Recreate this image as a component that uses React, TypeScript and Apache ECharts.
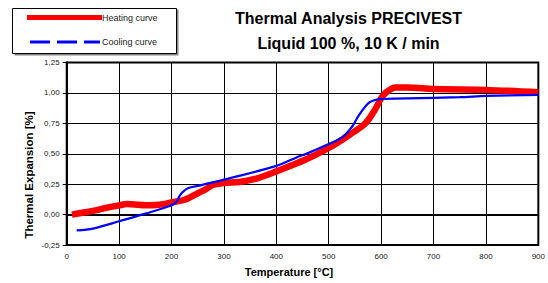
import React, { useEffect, useRef } from "react";
import * as echarts from "echarts";

const heatingT = [10, 30, 50, 75, 100, 115, 130, 150, 175, 200, 225, 250, 266, 280, 300, 330, 365, 400, 455, 500, 540, 570, 590, 600, 610, 627, 650, 700, 800, 900];
const heatingV = [0.0, 0.015, 0.03, 0.055, 0.076, 0.086, 0.083, 0.076, 0.08, 0.1, 0.122, 0.175, 0.21, 0.245, 0.26, 0.268, 0.3, 0.355, 0.45, 0.547, 0.656, 0.75, 0.875, 0.956, 1.006, 1.045, 1.045, 1.033, 1.025, 1.006];

const coolingT = [19, 50, 100, 150, 200, 210, 215, 220, 232, 253, 300, 400, 443, 456, 500, 526, 545, 558, 577, 594, 600, 650, 750, 800, 900];
const coolingV = [-0.13, -0.115, -0.055, 0.008, 0.076, 0.11, 0.15, 0.18, 0.218, 0.238, 0.287, 0.4, 0.478, 0.497, 0.58, 0.637, 0.724, 0.82, 0.92, 0.948, 0.95, 0.955, 0.965, 0.975, 0.984];

const xTicks = { min: 0, max: 900, interval: 100 };
const yTicks = { min: -0.25, max: 1.25, interval: 0.25 };

const titleLines = ["Thermal Analysis PRECIVEST", "Liquid 100 %, 10 K / min"];
const legendNames = ["Heating curve", "Cooling curve"];
const xName = "Temperature [°C]";
const yName = "Thermal Expansion [%]";

export default function App() {
  const ref = useRef<HTMLDivElement>(null);
  useEffect(() => {
    if (!ref.current) return;
    const chart = echarts.init(ref.current, undefined, { renderer: "svg" });
    const font = "Liberation Sans, Arial, sans-serif";
    chart.setOption({
      animation: false,
      backgroundColor: "#fff",
      textStyle: { fontFamily: font },
      grid: {
        left: 66.7,
        right: 9,
        top: 62.5,
        bottom: 38,
        show: true,
        borderColor: "#000",
        borderWidth: 2,
        containLabel: false,
      },
      xAxis: {
        type: "value",
        min: xTicks.min,
        max: xTicks.max,
        interval: xTicks.interval,
        axisLine: { show: true, lineStyle: { color: "#000", width: 2 } },
        axisTick: { show: true, inside: false, length: 4, lineStyle: { color: "#000" } },
        axisLabel: { fontFamily: font, fontSize: 8, color: "#222", margin: 7 },
        splitLine: { show: true, lineStyle: { color: "#000", width: 1 } },
      },
      yAxis: {
        type: "value",
        min: yTicks.min,
        max: yTicks.max,
        interval: yTicks.interval,
        axisLine: { show: true, lineStyle: { color: "#000", width: 2 } },
        axisTick: { show: true, inside: false, length: 4, lineStyle: { color: "#000" } },
        axisLabel: {
          fontFamily: font,
          fontSize: 8,
          color: "#222",
          margin: 7,
          formatter: (v: number) => v.toFixed(2).replace(".", ","),
        },
        splitLine: { show: true, lineStyle: { color: "#000", width: 1 } },
      },
      series: [
        {
          name: legendNames[0],
          type: "line",
          data: heatingT.map((t, i) => [t, heatingV[i]]),
          showSymbol: false,
          smooth: 0.3,
          lineStyle: { color: "#ff0000", width: 6.5 },
          z: 2,
        },
        {
          name: legendNames[1],
          type: "line",
          data: coolingT.map((t, i) => [t, coolingV[i]]),
          showSymbol: false,
          smooth: 0.3,
          lineStyle: { color: "#0000ff", width: 2.2 },
          z: 3,
        },
      ],
      graphic: [
        {
          type: "rect",
          shape: { x: 14.5, y: 9.5, width: 164, height: 46 },
          style: { fill: "#888", stroke: null },
        },
        {
          type: "rect",
          shape: { x: 12.5, y: 8.5, width: 164, height: 45 },
          style: { fill: "#fff", stroke: "#000", lineWidth: 1 },
        },
        {
          type: "line",
          shape: { x1: 27, y1: 17.5, x2: 102, y2: 17.5 },
          style: { stroke: "#ff0000", lineWidth: 5 },
        },
        {
          type: "text",
          x: 102,
          y: 17.5,
          style: { text: legendNames[0], font: `9px ${font}`, fill: "#222", textVerticalAlign: "middle" },
        },
        {
          type: "line",
          shape: { x1: 30, y1: 42, x2: 100, y2: 42 },
          style: { stroke: "#0000ff", lineWidth: 3, lineDash: [20, 7] },
        },
        {
          type: "text",
          x: 102,
          y: 42,
          style: { text: legendNames[1], font: `9px ${font}`, fill: "#222", textVerticalAlign: "middle" },
        },
        {
          type: "text",
          x: 348.5,
          y: 18.5,
          style: {
            text: titleLines[0],
            font: `bold 16px ${font}`,
            fill: "#000",
            textAlign: "center",
            textVerticalAlign: "middle",
          },
        },
        {
          type: "text",
          x: 348.5,
          y: 43.5,
          style: {
            text: titleLines[1],
            font: `bold 16px ${font}`,
            fill: "#000",
            textAlign: "center",
            textVerticalAlign: "middle",
          },
        },
        {
          type: "text",
          x: 289,
          y: 272,
          style: {
            text: xName,
            font: `bold 11px ${font}`,
            fill: "#000",
            textAlign: "center",
            textVerticalAlign: "middle",
          },
        },
        {
          type: "text",
          x: 29,
          y: 175,
          rotation: Math.PI / 2,
          style: {
            text: yName,
            font: `bold 11.5px ${font}`,
            fill: "#000",
            textAlign: "center",
            textVerticalAlign: "middle",
          },
        },
      ],
    });
    return () => chart.dispose();
  }, []);
  return <div ref={ref} style={{ width: 548, height: 283, position: "fixed", left: 0, top: 0 }} />;
}
